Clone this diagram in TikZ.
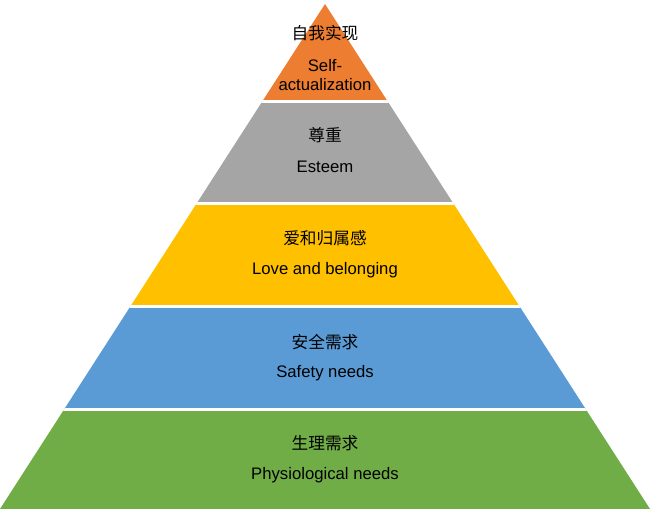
\documentclass[tikz,border=0pt]{standalone}
\usepackage{fontspec}
\setmainfont{Liberation Sans}
\newfontfamily\cjk{Noto Sans CJK SC}
\definecolor{lvlorange}{HTML}{ED7D31}
\definecolor{lvlgray}{HTML}{A5A5A5}
\definecolor{lvlyellow}{HTML}{FFC000}
\definecolor{lvlblue}{HTML}{5B9BD5}
\definecolor{lvlgreen}{HTML}{70AD47}
\begin{document}
\begin{tikzpicture}[
    x=0.02cm, y=-0.02cm,
    font=\fontsize{9.5}{11}\selectfont,
    zh/.style={font=\cjk\fontsize{9.5}{11}\selectfont},
    en/.style={align=center, font=\fontsize{9.5}{11}\selectfont},
    gap/.style={white, line width=3*0.02cm}
  ]
  \useasboundingbox (0,0) rectangle (650,509);
  % the pyramid, cut into bands
  \begin{scope}
    \clip (325,4) -- (650,509) -- (0,509) -- cycle;
    \fill[lvlorange] (0,0) rectangle (650,101.5);
    \fill[lvlgray] (0,101.5) rectangle (650,203.5);
    \fill[lvlyellow] (0,203.5) rectangle (650,306.5);
    \fill[lvlblue] (0,306.5) rectangle (650,409.5);
    \fill[lvlgreen] (0,409.5) rectangle (650,509);
    \foreach \y in {101.5,203.5,306.5,409.5}
      \draw[gap] (0,\y) -- (650,\y);
  \end{scope}
  % labels
  \node[zh] (self zh) at (325,33) {自我实现};
  \node[en] (self en) at (325,75) {Self-\\actualization};
  \node[zh] (esteem zh) at (325,135) {尊重};
  \node[en] (esteem en) at (325,167) {Esteem};
  \node[zh] (love zh) at (325,238) {爱和归属感};
  \node[en] (love en) at (325,270) {Love and belonging};
  \node[zh] (safety zh) at (325,342) {安全需求};
  \node[en] (safety en) at (325,373) {Safety needs};
  \node[zh] (phys zh) at (325,443) {生理需求};
  \node[en] (phys en) at (325,475) {Physiological needs};
\end{tikzpicture}
\end{document}
